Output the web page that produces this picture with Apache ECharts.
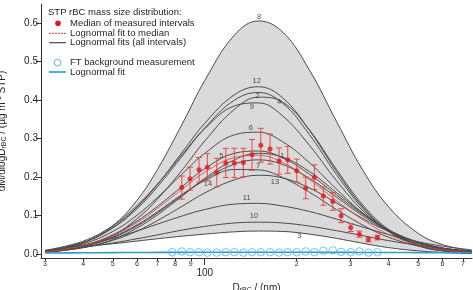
<!DOCTYPE html>
<html>
<head>
<meta charset="utf-8">
<script src="https://cdn.jsdelivr.net/npm/echarts@6/dist/echarts.min.js"></script>
<style>
  html, body { margin: 0; padding: 0; background: #fff; }
  #chart { width: 473px; height: 290px; }
</style>
</head>
<body>
<div id="chart"></div>
<script>
var dSample = [30, 40, 50, 60, 70, 85, 100, 125, 150, 180, 220, 270, 330, 400, 500, 600, 750];

// lognormal fits of the single intervals (dM/dlogD, ug m-3 STP)
var fit8  = [0.007, 0.030, 0.074, 0.140, 0.220, 0.343, 0.451, 0.569, 0.606, 0.577, 0.479, 0.345, 0.217, 0.123, 0.054, 0.025, 0.008];
var fit12 = [0.0086, 0.031, 0.070, 0.122, 0.181, 0.268, 0.340, 0.414, 0.435, 0.406, 0.322, 0.215, 0.122, 0.061, 0.023, 0.009, 0.002];
var fit2  = [0.0083, 0.030, 0.068, 0.118, 0.175, 0.258, 0.328, 0.400, 0.420, 0.392, 0.311, 0.207, 0.118, 0.059, 0.022, 0.0085, 0.002];
var fit4  = [0.005, 0.020, 0.049, 0.092, 0.143, 0.222, 0.294, 0.376, 0.408, 0.395, 0.323, 0.220, 0.127, 0.064, 0.023, 0.009, 0.002];
var fit9  = [0.0097, 0.034, 0.074, 0.126, 0.182, 0.262, 0.326, 0.385, 0.393, 0.359, 0.283, 0.191, 0.112, 0.059, 0.024, 0.010, 0.003];
var fit6  = [0.0078, 0.027, 0.059, 0.101, 0.147, 0.211, 0.262, 0.310, 0.317, 0.292, 0.238, 0.169, 0.106, 0.061, 0.027, 0.013, 0.004];
var fit5  = [0.0066, 0.023, 0.050, 0.086, 0.124, 0.178, 0.222, 0.262, 0.268, 0.250, 0.208, 0.154, 0.103, 0.063, 0.031, 0.016, 0.006];
var fit1  = [0.0044, 0.017, 0.038, 0.068, 0.102, 0.153, 0.197, 0.245, 0.262, 0.252, 0.215, 0.160, 0.106, 0.063, 0.030, 0.015, 0.005];
var fit7  = [0.0059, 0.020, 0.043, 0.073, 0.107, 0.155, 0.194, 0.234, 0.245, 0.233, 0.197, 0.148, 0.099, 0.060, 0.030, 0.015, 0.006];
var fit14 = [0.0058, 0.020, 0.045, 0.076, 0.110, 0.157, 0.191, 0.220, 0.219, 0.199, 0.161, 0.116, 0.075, 0.044, 0.021, 0.011, 0.004];
var fit13 = [0.0052, 0.017, 0.036, 0.060, 0.087, 0.126, 0.159, 0.193, 0.205, 0.198, 0.172, 0.133, 0.092, 0.059, 0.031, 0.016, 0.0065];
var fit11 = [0.0099, 0.024, 0.041, 0.060, 0.078, 0.100, 0.116, 0.130, 0.132, 0.125, 0.111, 0.091, 0.070, 0.051, 0.032, 0.021, 0.011];
var fit10 = [0.0086, 0.018, 0.029, 0.040, 0.050, 0.063, 0.072, 0.081, 0.083, 0.081, 0.073, 0.061, 0.048, 0.035, 0.023, 0.015, 0.008];
var fit3  = [0.009, 0.020, 0.027, 0.034, 0.040, 0.047, 0.052, 0.058, 0.060, 0.059, 0.052, 0.041, 0.028, 0.017, 0.0085, 0.0043, 0.0016];

// lognormal fit to the median and the FT background fit
var fitMedian = [0.0063, 0.022, 0.048, 0.082, 0.119, 0.171, 0.213, 0.251, 0.257, 0.238, 0.194, 0.139, 0.089, 0.051, 0.024, 0.011, 0.004];
var fitFT     = [0.003, 0.0035, 0.004, 0.0042, 0.0045, 0.0047, 0.0048, 0.005, 0.005, 0.005, 0.0048, 0.0046, 0.0044, 0.0042, 0.004, 0.0037, 0.0035];

// median of measured intervals with its spread
var medD   = [84.1, 89.5, 95.8, 102, 109.5, 117.2, 125, 133.8, 142.8, 152.6, 163.6, 175.1, 187, 200.1, 214.1, 228.5, 244.5, 262.5, 279.5, 300.6, 320.8, 343.4, 367.6];
var medV   = [0.173, 0.196, 0.219, 0.226, 0.212, 0.237, 0.237, 0.238, 0.258, 0.283, 0.273, 0.242, 0.245, 0.217, 0.172, 0.200, 0.151, 0.137, 0.100, 0.069, 0.052, 0.038, 0.043];
var medErr = [0.030, 0.030, 0.032, 0.035, 0.037, 0.038, 0.038, 0.037, 0.040, 0.044, 0.039, 0.034, 0.035, 0.030, 0.028, 0.032, 0.024, 0.023, 0.018, 0.010, 0.008, 0.006, 0.006];

// FT background measurement
var ftD = [78.3, 84.1, 89.5, 95.8, 102, 109.5, 117.2, 125, 133.8, 142.8, 152.6, 163.6, 175.1, 187, 200.1, 214.1, 228.5, 244.5, 262.5, 279.5, 300.6, 320.8, 343.4, 367.6];
var ftV = [0.005, 0.007, 0.005, 0.005, 0.004, 0.004, 0.005, 0.005, 0.004, 0.005, 0.005, 0.005, 0.004, 0.005, 0.005, 0.007, 0.005, 0.009, 0.010, 0.006, 0.005, 0.007, 0.004, 0.005];

// interval numbers written on the curves
var curveLabels = [
  ['8', 150.6, 0.616], ['12', 148, 0.451], ['2', 149, 0.411], ['4', 175, 0.396],
  ['9', 142.5, 0.383], ['6', 141.5, 0.327], ['5', 113.3, 0.255], ['1', 179.6, 0.256],
  ['7', 149.5, 0.229], ['14', 102.5, 0.182], ['13', 169.9, 0.188], ['11', 137.2, 0.145],
  ['10', 145, 0.098], ['3', 204, 0.048]
];

var xTicks = [30, 40, 50, 60, 70, 80, 90, 100, 200, 300, 400, 500, 600, 700];
var yTicks = [0, 0.1, 0.2, 0.3, 0.4, 0.5, 0.6];

var FONT = 'Liberation Sans, Arial, sans-serif';
var TXT = '#262626';

function pairs(xs, ys) {
  return xs.map(function (x, i) { return [x, ys[i]]; });
}

function fitLine(name, ys) {
  return {
    name: name, type: 'line', data: pairs(dSample, ys), smooth: 0.4,
    symbol: 'none', silent: true, z: 3,
    lineStyle: { color: '#4b4b4b', width: 1 }
  };
}

function renderErr(params, api) {
  var x = api.value(0);
  var top = api.coord([x, api.value(2)]);
  var bot = api.coord([x, api.value(1)]);
  var w = 3;
  var st = { stroke: '#e8474a', lineWidth: 1 };
  return {
    type: 'group',
    children: [
      { type: 'line', shape: { x1: top[0], y1: top[1], x2: bot[0], y2: bot[1] }, style: st },
      { type: 'line', shape: { x1: top[0] - w, y1: top[1], x2: top[0] + w, y2: top[1] }, style: st },
      { type: 'line', shape: { x1: bot[0] - w, y1: bot[1], x2: bot[0] + w, y2: bot[1] }, style: st }
    ]
  };
}

var chart = echarts.init(document.getElementById('chart'), null, { renderer: 'canvas' });

var option = {
  animation: false,
  backgroundColor: '#fff',
  textStyle: { fontFamily: FONT },
  grid: { left: 41, right: 1, top: 4, bottom: 32, outerBoundsMode: 'none', containLabel: false },
  xAxis: [{
    type: 'log', logBase: 10, min: 29.1, max: 750,
    name: '{d|D}{s|rBC}{d| / (nm)}',
    nameLocation: 'middle', nameGap: 21,
    nameTextStyle: {
      rich: {
        d: { fontSize: 10, color: TXT, fontFamily: FONT },
        s: { fontSize: 7, color: TXT, fontFamily: FONT, padding: [5, 0, 0, 0] }
      }
    },
    axisLine: { onZero: false, lineStyle: { color: '#333', width: 1 } },
    splitLine: { show: false },
    minorTick: { show: false },
    axisTick: { show: true, length: 3, customValues: xTicks, lineStyle: { color: '#333' } },
    axisLabel: {
      customValues: xTicks, margin: 3,
      formatter: function (v) {
        var n = Math.round(v);
        if (n === 100) return '{b|100}';
        return '{s|' + (n >= 100 ? n / 100 : n / 10) + '}';
      },
      rich: {
        s: { fontSize: 7, color: TXT, fontFamily: FONT },
        b: { fontSize: 10, color: TXT, fontFamily: FONT, padding: [7, 0, 0, 0] }
      }
    }
  }, {
    // longer tick at the decade
    type: 'log', logBase: 10, min: 29.1, max: 750, position: 'bottom',
    axisLine: { show: false, onZero: false },
    splitLine: { show: false },
    axisTick: { show: true, length: 7, customValues: [100], lineStyle: { color: '#333' } },
    axisLabel: { show: false }
  }],
  yAxis: {
    type: 'value', min: -0.01, max: 0.65,
    name: '{d|dM/dlogD}{s|rBC}{d| / (µg m}{p|-3}{d| STP)}',
    nameLocation: 'middle', nameGap: 33,
    nameTextStyle: {
      rich: {
        d: { fontSize: 10, color: TXT, fontFamily: FONT },
        s: { fontSize: 7, color: TXT, fontFamily: FONT, padding: [5, 0, 0, 0] },
        p: { fontSize: 7, color: TXT, fontFamily: FONT, padding: [0, 0, 5, 0] }
      }
    },
    axisLine: { show: true, onZero: false, lineStyle: { color: '#333', width: 1 } },
    splitLine: { show: false },
    axisTick: { show: true, length: 5, customValues: yTicks, lineStyle: { color: '#333' } },
    axisLabel: {
      customValues: yTicks, margin: 3, fontSize: 10, color: TXT, fontFamily: FONT,
      formatter: function (v) { return v.toFixed(1); }
    }
  },
  series: [
    // grey band spanned by all interval fits
    {
      name: 'band', type: 'line', data: pairs(dSample, fit8), smooth: 0.4, symbol: 'none',
      silent: true, z: 1, lineStyle: { width: 0 },
      areaStyle: { color: '#dadada', opacity: 1 }
    },
    {
      name: 'bandCut', type: 'line', data: pairs(dSample, fit3), smooth: 0.4, symbol: 'none',
      silent: true, z: 1, lineStyle: { width: 0 },
      areaStyle: { color: '#ffffff', opacity: 1 }
    },
    fitLine('8', fit8), fitLine('12', fit12), fitLine('2', fit2), fitLine('4', fit4),
    fitLine('9', fit9), fitLine('6', fit6), fitLine('5', fit5), fitLine('1', fit1),
    fitLine('7', fit7), fitLine('14', fit14), fitLine('13', fit13), fitLine('11', fit11),
    fitLine('10', fit10), fitLine('3', fit3),
    {
      name: 'Lognormal fit to median', type: 'line', data: pairs(dSample, fitMedian),
      smooth: 0.4, symbol: 'none', silent: true, z: 4,
      lineStyle: { color: 'rgba(226,60,60,0.8)', width: 1 }
    },
    {
      name: 'FT background measurement', type: 'scatter', data: pairs(ftD, ftV),
      symbol: 'circle', symbolSize: 7.5, silent: true, z: 5,
      itemStyle: { color: 'rgba(0,0,0,0)', borderColor: '#52b6e0', borderWidth: 1 }
    },
    {
      name: 'Lognormal fit', type: 'line', data: pairs(dSample, fitFT),
      smooth: 0.4, symbol: 'none', silent: true, z: 5,
      lineStyle: { color: '#2d9ad6', width: 1.6 }
    },
    {
      name: 'spread', type: 'custom', renderItem: renderErr, silent: true, z: 6,
      encode: { x: 0, y: [1, 2] },
      data: medD.map(function (d, i) { return [d, medV[i] - medErr[i], medV[i] + medErr[i]]; })
    },
    {
      name: 'Median of measured intervals', type: 'scatter', data: pairs(medD, medV),
      symbol: 'circle', symbolSize: 5, silent: true, z: 7,
      itemStyle: { color: '#e5141b' }
    },
    {
      name: 'numbers', type: 'scatter', symbolSize: 0, silent: true, z: 8,
      data: curveLabels.map(function (c) { return { name: c[0], value: [c[1], c[2]] }; }),
      label: {
        show: true, position: 'inside', formatter: '{b}',
        fontSize: 7.5, color: '#1e1e1e', fontFamily: FONT
      }
    }
  ],
  graphic: [
    { type: 'text', left: 48, top: 7, style: { text: 'STP rBC mass size distribution:', fontSize: 9.5, fill: TXT, fontFamily: FONT } },
    { type: 'circle', shape: { cx: 58, cy: 23.3, r: 2.8 }, style: { fill: '#e5141b' } },
    { type: 'text', left: 70, top: 18, style: { text: 'Median of measured intervals', fontSize: 9.5, fill: TXT, fontFamily: FONT } },
    { type: 'line', shape: { x1: 49, y1: 33.3, x2: 66, y2: 33.3 }, style: { stroke: '#e23c3c', lineWidth: 1, lineDash: [2, 1] } },
    { type: 'text', left: 70, top: 28, style: { text: 'Lognormal fit to median', fontSize: 9.5, fill: TXT, fontFamily: FONT } },
    { type: 'line', shape: { x1: 49, y1: 42.7, x2: 66, y2: 42.7 }, style: { stroke: '#4b4b4b', lineWidth: 1.2 } },
    { type: 'text', left: 70, top: 37.5, style: { text: 'Lognormal fits (all intervals)', fontSize: 9.5, fill: TXT, fontFamily: FONT } },
    { type: 'circle', shape: { cx: 57.5, cy: 62.7, r: 3.4 }, style: { fill: 'none', stroke: '#52b6e0', lineWidth: 1 } },
    { type: 'text', left: 70, top: 57.5, style: { text: 'FT background measurement', fontSize: 9.5, fill: TXT, fontFamily: FONT } },
    { type: 'line', shape: { x1: 49, y1: 72, x2: 66, y2: 72 }, style: { stroke: '#2d9ad6', lineWidth: 1.6 } },
    { type: 'text', left: 70, top: 67, style: { text: 'Lognormal fit', fontSize: 9.5, fill: TXT, fontFamily: FONT } }
  ]
};

chart.setOption(option);
</script>
</body>
</html>
